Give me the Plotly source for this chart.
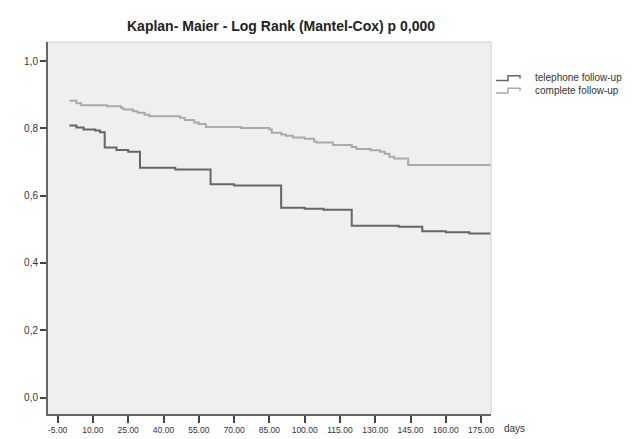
import plotly.graph_objects as go

# Data
tel_days = [0, 3, 6, 11, 13, 15, 20, 25, 30, 45, 60, 70, 90, 100, 108, 120, 140, 150, 160, 170, 179]
tel_surv = [0.809, 0.803, 0.797, 0.794, 0.789, 0.743, 0.736, 0.731, 0.683, 0.678, 0.634, 0.630,
            0.564, 0.561, 0.558, 0.511, 0.508, 0.494, 0.491, 0.488, 0.488]

comp_days = [0, 3, 5, 16, 22, 23, 27, 29, 32, 34, 47, 49, 53, 55, 58, 73, 85, 86, 90, 92, 95,
             100, 104, 105, 112, 120, 122, 128, 132, 134, 136, 138, 144, 179]
comp_surv = [0.882, 0.875, 0.869, 0.866, 0.861, 0.856, 0.851, 0.847, 0.841, 0.836, 0.832, 0.825,
             0.818, 0.813, 0.804, 0.801, 0.797, 0.787, 0.782, 0.778, 0.773, 0.769, 0.761, 0.758,
             0.751, 0.745, 0.739, 0.735, 0.731, 0.725, 0.716, 0.711, 0.691, 0.691]

x_tickvals = [-5, 10, 25, 40, 55, 70, 85, 100, 115, 130, 145, 160, 175]
x_ticktext = ["-5.00", "10.00", "25.00", "40.00", "55.00", "70.00", "85.00", "100.00",
              "115.00", "130.00", "145.00", "160.00", "175.00"]
y_tickvals = [0.0, 0.2, 0.4, 0.6, 0.8, 1.0]
y_ticktext = ["0,0", "0,2", "0,4", "0,6", "0,8", "1,0"]

series_names = ["telephone follow-up", "complete follow-up"]
series_colors = ["#666666", "#aaaaaa"]

W, H = 634, 439
ML, MR, MT, MB = 40, 151, 34, 19
PW, PH = W - ML - MR, H - MT - MB


def px(x):
    return (x - ML) / PW


def py(y):
    return (H - MB - y) / PH


fig = go.Figure()
fig.add_trace(go.Scatter(x=tel_days, y=tel_surv, mode="lines", line_shape="hv",
                         line=dict(color=series_colors[0], width=2), name=series_names[0],
                         showlegend=False))
fig.add_trace(go.Scatter(x=comp_days, y=comp_surv, mode="lines", line_shape="hv",
                         line=dict(color=series_colors[1], width=2), name=series_names[1],
                         showlegend=False))

shapes = []
# light border on top/right of the plot area
shapes.append(dict(type="path", xref="paper", yref="paper",
                   path="M 0 1 L 1 1 L 1 0", line=dict(color="#d0d0d0", width=1)))

annotations = []
# custom legend with step glyphs
leg_y = [71, 84]
for i, (name, col) in enumerate(zip(series_names, series_colors)):
    yb = leg_y[i] + 3
    yt = leg_y[i] - 2
    path = (f"M {px(488)} {py(yb)} L {px(500)} {py(yb)} L {px(500)} {py(yt)} "
            f"L {px(512)} {py(yt)} L {px(512)} {py(yt + 3)}")
    shapes.append(dict(type="path", xref="paper", yref="paper", path=path,
                       line=dict(color=col, width=1.5)))
    annotations.append(dict(x=px(525), y=py(leg_y[i]), xref="paper", yref="paper",
                            text=name, showarrow=False, xanchor="left", yanchor="middle",
                            font=dict(size=10, color="#333333")))

annotations.append(dict(x=px(273), y=py(17), xref="paper", yref="paper",
                        text="<b>Kaplan- Maier - Log Rank (Mantel-Cox) p 0,000</b>",
                        showarrow=False, xanchor="center", yanchor="middle",
                        font=dict(size=14, color="#222222")))
annotations.append(dict(x=px(494), y=py(435), xref="paper", yref="paper",
                        text="days", showarrow=False, xanchor="left", yanchor="middle",
                        font=dict(size=10, color="#333333")))

fig.update_layout(
    width=W, height=H,
    margin=dict(l=ML, r=MR, t=MT, b=MB),
    paper_bgcolor="white",
    plot_bgcolor="#efefef",
    font=dict(family="Liberation Sans, Arial, sans-serif", color="#333333"),
    shapes=shapes,
    annotations=annotations,
    showlegend=False,
)
fig.update_xaxes(range=[-9.1, 179.2], tickvals=x_tickvals, ticktext=x_ticktext,
                 showgrid=False, zeroline=False, showline=True, linecolor="#666666", linewidth=2,
                 ticks="outside", ticklen=7, tickwidth=2, tickcolor="#444444",
                 tickfont=dict(size=8.5, color="#333333"))
fig.update_yaxes(range=[-0.049, 1.057], tickvals=y_tickvals, ticktext=y_ticktext,
                 showgrid=False, zeroline=False, showline=True, linecolor="#666666", linewidth=2,
                 ticks="outside", ticklen=6, tickwidth=2, tickcolor="#444444",
                 tickfont=dict(size=10, color="#333333"))

fig.write_html("out.html")
